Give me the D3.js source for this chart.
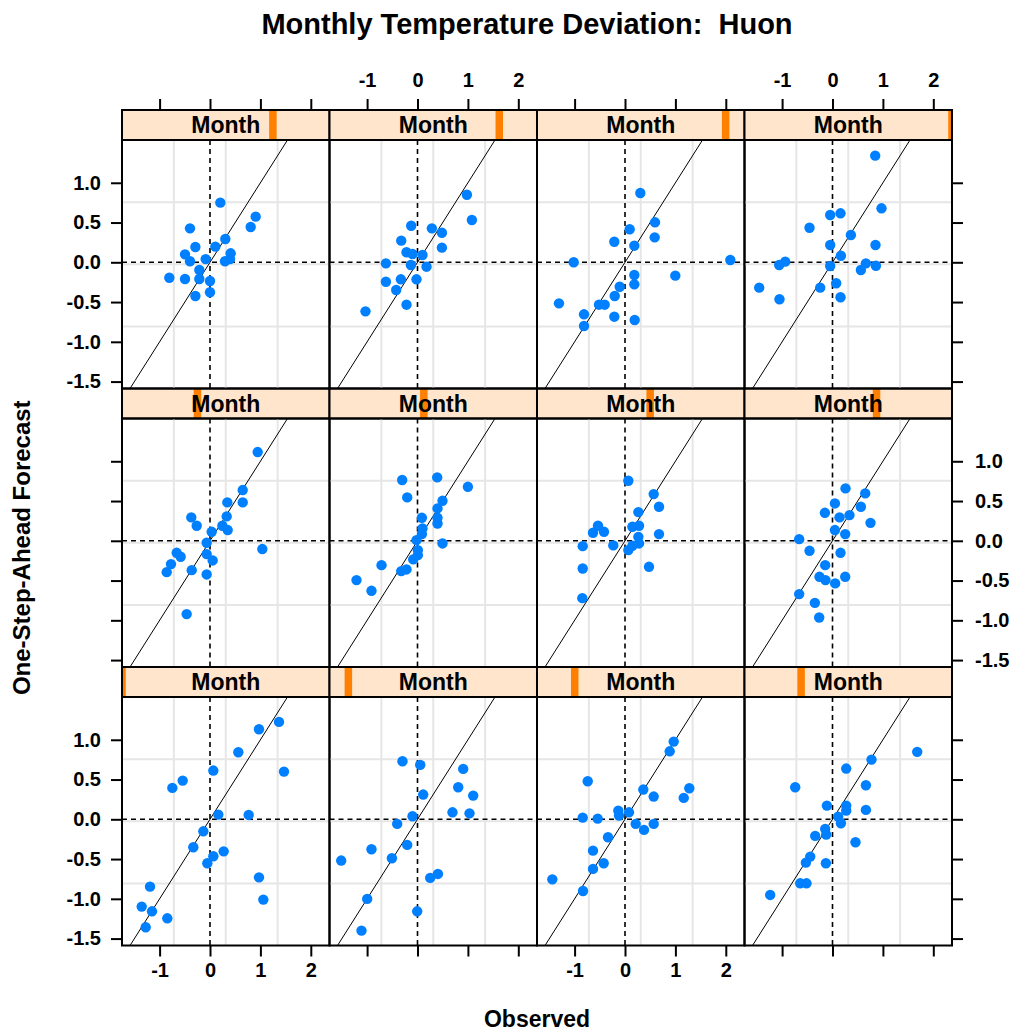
<!DOCTYPE html>
<html>
<head>
<meta charset="utf-8">
<script src="https://cdn.jsdelivr.net/npm/d3@7"></script>
<style>
  html, body { margin: 0; padding: 0; background: #fff; }
  svg text { font-family: "Liberation Sans", Arial, Helvetica, sans-serif; white-space: pre; }
</style>
</head>
<body>
<svg id="chart" width="1017" height="1032"></svg>
<script>
// Observed vs one-step-ahead forecast temperature deviations, one panel per month.
// Each pair is [observed, forecast].
const jan = [[1.369,1.225],[0.972,1.132],[0.562,0.843],[0.066,0.613],[1.468,0.600],[-0.542,0.487],
  [-0.747,0.395],[0.165,0.059],[0.767,0.055],[-0.132,-0.151],[-0.331,-0.352],[0.271,-0.403],
  [0.066,-0.465],[-0.053,-0.553],[0.972,-0.730],[-1.190,-0.847],[1.058,-1.010],[-1.355,-1.098],
  [-1.151,-1.157],[-0.847,-1.245],[-1.276,-1.358]];
const feb = [[-0.298,0.730],[0.054,0.684],[0.907,0.634],[0.808,0.403],[0.113,0.311],[1.105,0.298],
  [0.694,0.088],[1.032,0.075],[-0.099,0.038],[-0.403,-0.058],[-0.204,-0.322],[-0.913,-0.377],
  [-0.508,-0.490],[-1.514,-0.519],[0.405,-0.687],[0.252,-0.737],[-0.998,-1.001],[-0.006,-1.157],
  [-1.111,-1.400]];
const mar = [[0.966,0.977],[0.887,0.855],[-0.740,0.478],[1.276,0.390],[0.363,0.374],[0.569,0.286],
  [1.165,0.269],[-0.133,0.109],[0.079,0.088],[-0.119,0.047],[-0.839,0.021],[-0.542,0.009],
  [0.212,-0.058],[0.569,-0.058],[0.377,-0.133],[-0.337,-0.226],[-0.635,-0.394],[-0.423,-0.553],
  [-0.635,-0.624],[-1.442,-0.755],[-0.833,-0.901]];
const apr = [[1.681,0.848],[0.774,0.751],[0.272,0.638],[-0.740,0.403],[0.663,0.428],[-0.111,0.172],
  [0.272,0.172],[0.663,0.118],[0.272,0.109],[0.113,0.034],[0.167,-0.050],[-0.145,-0.121],
  [-0.125,-0.192],[-0.343,-0.209],[0.456,-0.289],[-0.442,-0.469],[-0.528,-0.545],[-0.131,-0.553],
  [-0.641,-0.805],[-0.516,-0.805],[-1.236,-0.951]];
const may = [[0.946,1.116],[0.649,0.638],[0.344,0.483],[0.649,0.483],[-0.371,0.294],[0.331,0.307],
  [-0.264,0.189],[0.245,0.189],[0.351,0.135],[0.033,0.113],[-0.066,-0.025],[1.038,-0.104],
  [-0.661,-0.151],[-0.582,-0.201],[-0.066,-0.167],[0.053,-0.247],[-0.774,-0.293],[-0.859,-0.394],
  [-0.363,-0.369],[-0.066,-0.423],[-0.463,-0.922]];
const jun = [[0.391,0.797],[-0.304,0.764],[1.000,0.679],[-0.204,0.546],[0.496,0.503],[0.397,0.407],
  [0.087,0.289],[0.397,0.289],[0.397,0.218],[0.099,0.156],[0.087,0.084],[-0.020,0.009],
  [0.496,-0.033],[0.007,-0.117],[0.007,-0.180],[-0.085,-0.234],[-0.714,-0.306],[-0.218,-0.360],
  [-0.323,-0.381],[-1.210,-0.494],[-0.913,-0.629]];
const jul = [[0.066,0.755],[0.569,0.587],[0.675,0.428],[0.265,0.361],[-0.536,0.189],[0.278,0.189],
  [0.146,0.176],[-0.635,0.101],[-0.417,0.113],[0.675,0.084],[0.265,0.050],[0.278,-0.033],
  [0.146,-0.063],[-0.232,-0.058],[-0.839,-0.067],[0.066,-0.117],[-0.839,-0.348],[0.476,-0.327],
  [-0.847,-0.721]];
const aug = [[0.258,0.659],[0.649,0.596],[0.048,0.470],[0.563,0.428],[-0.151,0.352],[0.139,0.294],
  [0.337,0.323],[0.754,0.226],[0.048,0.135],[0.252,0.084],[-0.661,0.021],[-0.456,-0.126],
  [0.159,-0.151],[-0.145,-0.306],[-0.258,-0.453],[-0.139,-0.494],[0.252,-0.453],[0.053,-0.536],
  [-0.661,-0.670],[-0.350,-0.780],[-0.264,-0.964]];
const sep = [[0.205,0.750],[0.906,0.574],[0.807,0.444],[-0.397,0.427],[0.304,0.293],[-0.290,0.192],
  [0.106,0.197],[-0.496,0.100],[-0.397,0.013],[-0.086,0.040],[0.410,0.113],[0.397,0.040],
  [0.298,0.013],[-0.212,-0.097],[-0.807,-0.194],[-0.496,-0.210],[-0.212,-0.210],[0.000,-0.235],
  [-0.290,-0.424],[0.000,-0.377]];
const oct = [[0.980,0.850],[1.079,0.532],[-0.125,0.460],[0.285,0.427],[0.484,0.372],[-0.323,0.272],
  [0.484,0.184],[-0.218,0.126],[-0.099,0.104],[0.099,0.092],[-0.627,-0.013],[-0.131,-0.034],
  [0.179,-0.055],[-0.627,-0.244],[-0.330,-0.214],[-0.020,-0.214],[-0.423,-0.348],[-0.218,-0.533],
  [-1.032,-0.617]];
const nov = [[0.304,0.872],[0.595,0.503],[0.093,0.415],[0.589,0.314],[-0.212,0.259],[0.185,0.209],
  [-1.018,0.000],[2.090,0.029],[0.185,-0.160],[0.998,-0.168],[0.185,-0.277],[-0.105,-0.307],
  [-0.204,-0.424],[-1.310,-0.516],[-0.516,-0.533],[-0.403,-0.533],[-0.813,-0.654],[-0.212,-0.684],
  [0.192,-0.726],[-0.813,-0.801]];
const dec = [[0.847,1.341],[0.972,0.679],[-0.046,0.595],[0.159,0.616],[-0.456,0.435],[0.365,0.343],
  [-0.046,0.218],[0.853,0.218],[0.167,0.083],[-0.938,0.008],[-1.058,-0.034],[-0.046,-0.047],
  [0.663,-0.013],[0.861,-0.043],[0.563,-0.097],[0.073,-0.264],[-0.244,-0.319],[-1.454,-0.319],
  [0.159,-0.440],[-1.052,-0.465]];

const months = [jan, feb, mar, apr, may, jun, jul, aug, sep, oct, nov, dec];
const xTicks = [-1, 0, 1, 2];
const yTicks = [-1.5, -1.0, -0.5, 0.0, 0.5, 1.0];
const xDomain = [-1.746, 2.371];
const yDomain = [-1.587, 1.538];

const titleText = "Monthly Temperature Deviation:  Huon";
const xLabel = "Observed";
const yLabel = "One-Step-Ahead Forecast";
const stripLabel = "Month";

// ---- layout ----
const nCol = 4, nRow = 3;
const gridLeft = 122, colW = 207.5;
const gridTop = 110, rowH = 278.5, stripH = 30, panelH = rowH - stripH;
const tickLen = 11;
const pointColor = "#0080ff";
const stripFill = "#ffe5cc";
const levelColor = "#ff7f00";
const gridColor = "#e6e6e6";

const svg = d3.select("#chart");

const x = d3.scaleLinear().domain(xDomain).range([0, colW]);
const y = d3.scaleLinear().domain(yDomain).range([panelH, 0]);
const level = d3.scaleLinear().domain([0, months.length - 1]).range([0, colW]);

svg.append("text")
  .attr("x", 527).attr("y", 34)
  .attr("text-anchor", "middle")
  .attr("font-size", 29).attr("font-weight", "bold")
  .text(titleText);

svg.append("text")
  .attr("x", 537).attr("y", 1027)
  .attr("text-anchor", "middle")
  .attr("font-size", 23).attr("font-weight", "bold")
  .text(xLabel);

svg.append("text")
  .attr("transform", `translate(30,${gridTop + nRow * rowH / 2 + 20}) rotate(-90)`)
  .attr("text-anchor", "middle")
  .attr("font-size", 24).attr("font-weight", "bold")
  .text(yLabel);

const defs = svg.append("defs");

months.forEach((data, i) => {
  const col = i % nCol;
  const row = nRow - 1 - Math.floor(i / nCol);
  const px = gridLeft + col * colW;
  const sy = gridTop + row * rowH;
  const py = sy + stripH;

  const clipId = `clip${i}`;
  defs.append("clipPath").attr("id", clipId)
    .append("rect").attr("width", colW).attr("height", panelH);
  defs.append("clipPath").attr("id", `sclip${i}`)
    .append("rect").attr("width", colW).attr("height", stripH);

  // strip with level indicator
  const strip = svg.append("g").attr("transform", `translate(${px},${sy})`);
  strip.append("rect").attr("width", colW).attr("height", stripH).attr("fill", stripFill);
  strip.append("g").attr("clip-path", `url(#sclip${i})`)
    .append("rect")
      .attr("x", level(i) - 3.75).attr("width", 7.5)
      .attr("y", 0).attr("height", stripH)
      .attr("fill", levelColor);
  strip.append("text")
    .attr("x", colW / 2).attr("y", stripH / 2 + 8)
    .attr("text-anchor", "middle")
    .attr("font-size", 23).attr("font-weight", "bold")
    .text(stripLabel);
  strip.append("rect").attr("width", colW).attr("height", stripH)
    .attr("fill", "none").attr("stroke", "#000").attr("stroke-width", 2);

  // panel
  const g = svg.append("g").attr("transform", `translate(${px},${py})`);
  const body = g.append("g").attr("clip-path", `url(#${clipId})`);

  // three evenly spaced reference lines in each direction
  const fr = [0.25, 0.5, 0.75];
  body.selectAll("line.gv").data(fr).join("line")
    .attr("x1", d => d * colW).attr("x2", d => d * colW)
    .attr("y1", 0).attr("y2", panelH)
    .attr("stroke", gridColor).attr("stroke-width", 2);
  body.selectAll("line.gh").data(fr).join("line")
    .attr("y1", d => d * panelH).attr("y2", d => d * panelH)
    .attr("x1", 0).attr("x2", colW)
    .attr("stroke", gridColor).attr("stroke-width", 2);

  // zero lines
  body.append("line")
    .attr("x1", x(0)).attr("x2", x(0)).attr("y1", 0).attr("y2", panelH)
    .attr("stroke", "#000").attr("stroke-width", 1.6).attr("stroke-dasharray", "5,4");
  body.append("line")
    .attr("x1", 0).attr("x2", colW).attr("y1", y(0)).attr("y2", y(0))
    .attr("stroke", "#000").attr("stroke-width", 1.6).attr("stroke-dasharray", "5,4");

  // identity line
  const lo = -3, hi = 3;
  body.append("line")
    .attr("x1", x(lo)).attr("y1", y(lo)).attr("x2", x(hi)).attr("y2", y(hi))
    .attr("stroke", "#000").attr("stroke-width", 1);

  body.selectAll("circle").data(data).join("circle")
    .attr("cx", d => x(d[0])).attr("cy", d => y(d[1]))
    .attr("r", 5.2).attr("fill", pointColor);

  g.append("rect").attr("width", colW).attr("height", panelH)
    .attr("fill", "none").attr("stroke", "#000").attr("stroke-width", 2);

  // axes: ticks on every outer edge, labels alternate
  const fmtY = d => d.toFixed(1);
  const fmtX = d => String(d);
  const styleAxis = (sel, showLabels) => {
    sel.select(".domain").remove();
    sel.selectAll(".tick line").attr("stroke", "#000").attr("stroke-width", 2);
    sel.selectAll(".tick text")
      .attr("font-size", 20).attr("font-weight", "bold").attr("fill", "#000")
      .style("font-family", '"Liberation Sans", Arial, sans-serif')
      .attr("opacity", showLabels ? 1 : 0);
  };

  if (col === 0) {
    const a = g.append("g").call(d3.axisLeft(y).tickValues(yTicks).tickFormat(fmtY).tickSize(tickLen).tickPadding(10));
    styleAxis(a, row !== 1);
  }
  if (col === nCol - 1) {
    const a = g.append("g").attr("transform", `translate(${colW},0)`)
      .call(d3.axisRight(y).tickValues(yTicks).tickFormat(fmtY).tickSize(tickLen).tickPadding(12));
    styleAxis(a, row === 1);
  }
  if (row === nRow - 1) {
    const a = g.append("g").attr("transform", `translate(0,${panelH})`)
      .call(d3.axisBottom(x).tickValues(xTicks).tickFormat(fmtX).tickSize(tickLen).tickPadding(6));
    styleAxis(a, col % 2 === 0);
  }
  if (row === 0) {
    const a = strip.append("g")
      .call(d3.axisTop(x).tickValues(xTicks).tickFormat(fmtX).tickSize(tickLen).tickPadding(12));
    styleAxis(a, col % 2 === 1);
  }
});
</script>
</body>
</html>
